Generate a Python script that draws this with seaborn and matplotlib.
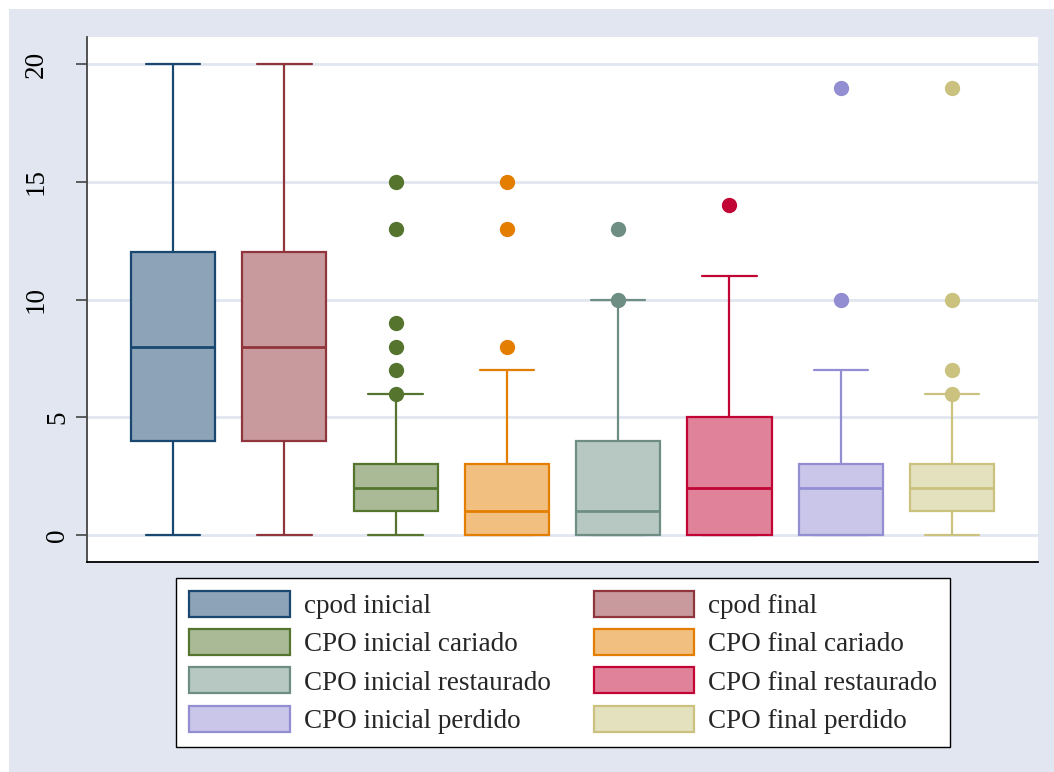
import numpy as np
import seaborn as sns
import matplotlib.pyplot as plt
from matplotlib.patches import Rectangle, Patch

sns.set_theme(style="white")
plt.rcParams['font.family'] = ['Liberation Serif', 'DejaVu Serif']

# box statistics
labels = ["cpod inicial", "cpod final",
          "CPO inicial cariado", "CPO final cariado",
          "CPO inicial restaurado", "CPO final restaurado",
          "CPO inicial perdido", "CPO final perdido"]
whislo = [0, 0, 0, 0, 0, 0, 0, 0]
q1 = [4, 4, 1, 0, 0, 0, 0, 1]
med = [8, 8, 2, 1, 1, 2, 2, 2]
q3 = [12, 12, 3, 3, 4, 5, 3, 3]
whishi = [20, 20, 6, 7, 10, 11, 7, 6]
fliers = [[], [], [6, 7, 8, 9, 13, 15], [8, 13, 15], [10, 13], [14], [10, 19], [6, 7, 10, 19]]
yticks = [0, 5, 10, 15, 20]

# stata s2color line colours
edge_rgb = [(26, 71, 111), (144, 53, 59), (85, 117, 47), (227, 126, 0),
            (110, 142, 132), (193, 5, 52), (147, 141, 210), (202, 194, 126)]
edges = [tuple(c / 255 for c in rgb) for rgb in edge_rgb]
fills = [tuple(0.5 * c + 0.5 for c in e) for e in edges]
bg = "#e1e6f0"

fig = plt.figure(figsize=(10.54, 7.72), dpi=100, facecolor="white")
fig.patches.append(Rectangle((9 / 1054, 0), 1, 1 - 9 / 772, transform=fig.transFigure,
                             facecolor=bg, edgecolor="none", zorder=-10))
ax = fig.add_axes([87 / 1054, 1 - 562 / 772, (1038 - 87) / 1054, (562 - 37) / 772])
ax.set_facecolor("white")

stats = []
for i in range(len(labels)):
    stats.append(dict(label=labels[i], whislo=whislo[i], q1=q1[i], med=med[i],
                      q3=q3[i], whishi=whishi[i], fliers=fliers[i]))

bp = ax.bxp(stats, positions=np.arange(len(labels)), widths=0.755, capwidths=0.49,
            patch_artist=True, showfliers=True, manage_ticks=False)

for i in range(len(labels)):
    bp['boxes'][i].set(facecolor=fills[i], edgecolor=edges[i], linewidth=1.6, zorder=3)
    bp['medians'][i].set(color=edges[i], linewidth=2.0, zorder=4)
    for ln in bp['whiskers'][2 * i:2 * i + 2] + bp['caps'][2 * i:2 * i + 2]:
        ln.set(color=edges[i], linewidth=1.6, zorder=2)
    bp['fliers'][i].set(marker="o", markersize=10, markerfacecolor=edges[i],
                        markeredgecolor=edges[i], linestyle="none", zorder=5)

ax.set_xlim(-0.773, 7.772)
ax.set_ylim(-1.146, 21.146)
ax.set_xticks([])
ax.set_yticks(yticks)
ax.set_yticklabels([str(t) for t in yticks])
for t in yticks:
    ax.axhline(t, color=bg, linewidth=2, zorder=1)

ax.tick_params(axis="y", left=True, length=8, width=1.2, color="#444444",
               labelsize=19.5, labelcolor="black", labelrotation=90)
for tick, t in zip(ax.yaxis.get_major_ticks(), yticks):
    tick.set_pad(19.5 if len(str(t)) > 1 else 4)
for lbl in ax.get_yticklabels():
    lbl.set_va("center")

for s in ["top", "right"]:
    ax.spines[s].set_visible(False)
ax.spines["left"].set(color="#444444", linewidth=1.3)
ax.spines["bottom"].set(color="black", linewidth=1.3)

# legend is filled row by row: inicial on the left, final on the right
handles = [Patch(facecolor=fills[i], edgecolor=edges[i], linewidth=1.6) for i in range(len(labels))]
order = list(range(0, len(labels), 2)) + list(range(1, len(labels), 2))
leg = fig.legend([handles[i] for i in order], [labels[i] for i in order], ncol=2,
                 loc="upper center",
                 bbox_to_anchor=(0.5345, 1 - 578 / 772), bbox_transform=fig.transFigure,
                 fontsize=19.5, frameon=True, fancybox=False, shadow=False,
                 handlelength=3.7, handleheight=1.1, handletextpad=0.52,
                 labelspacing=0.37, columnspacing=1.6, borderpad=0.48, borderaxespad=0)
leg.get_frame().set(edgecolor="black", linewidth=1.0, facecolor="white", alpha=1)

fig.savefig("out.png", dpi=100, facecolor=fig.get_facecolor())
